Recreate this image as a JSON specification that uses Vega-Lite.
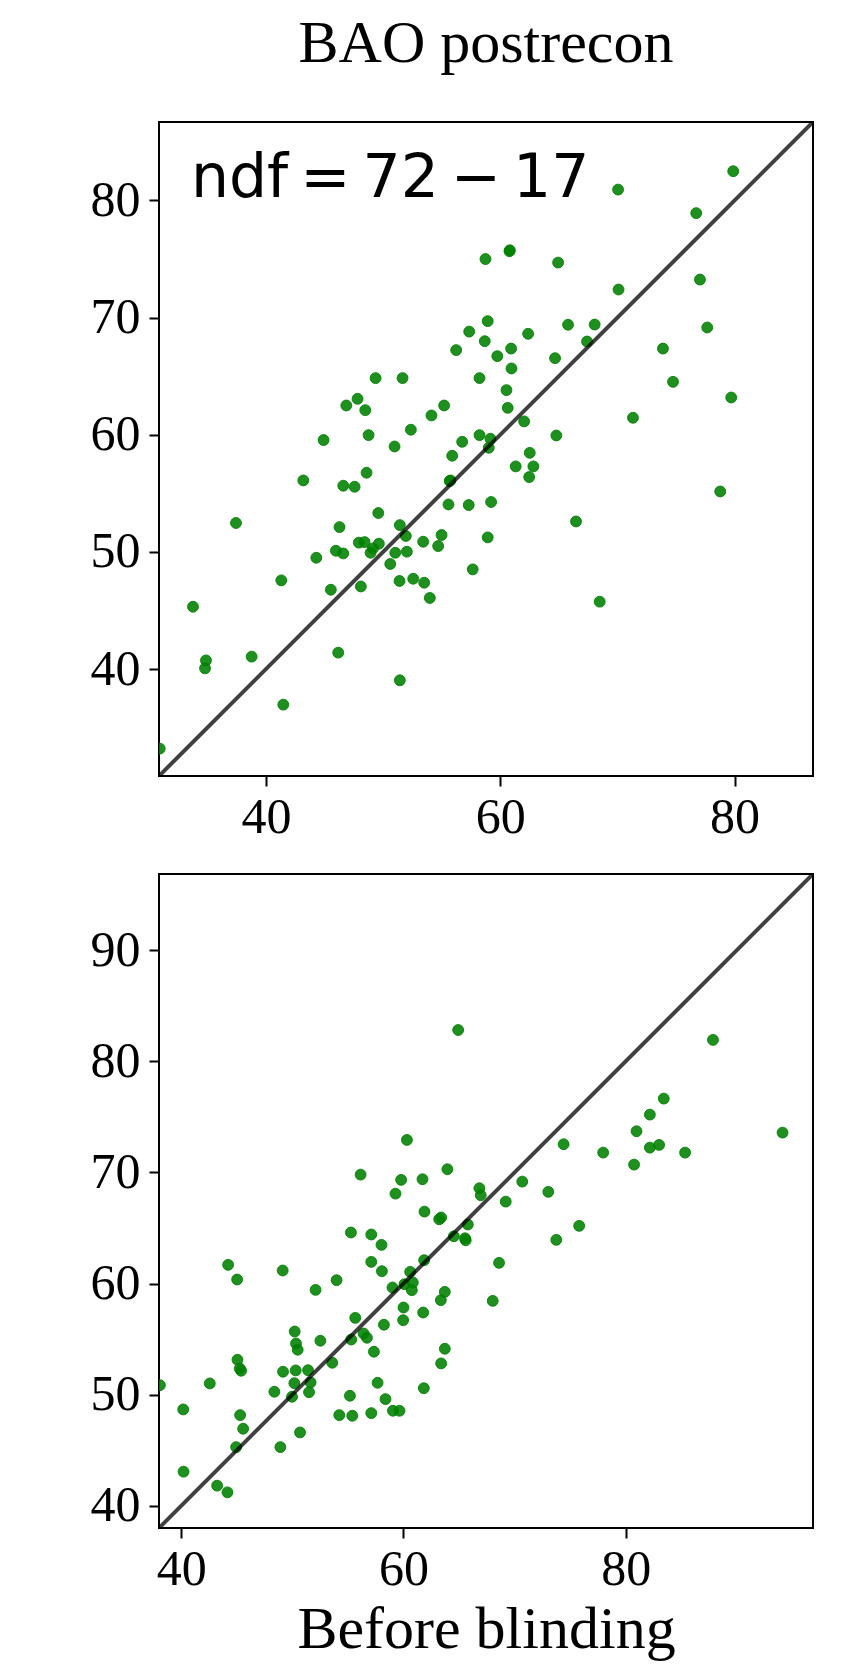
{
  "$schema": "https://vega.github.io/schema/vega-lite/v6.json",
  "padding": {"left": 89, "top": 13, "right": 31, "bottom": 20},
  "bounds": "flush",
  "spacing": 98,
  "config": {
    "view": {"stroke": "black", "strokeWidth": 2},
    "axis": {
      "domain": false,
      "grid": false,
      "ticks": true,
      "tickColor": "black",
      "tickWidth": 2,
      "tickSize": 10,
      "labelFont": "Liberation Serif",
      "labelFontSize": 50,
      "labelColor": "black",
      "titleFont": "Liberation Serif",
      "titleFontSize": 60,
      "titleFontWeight": "normal",
      "titleColor": "black"
    },
    "axisX": {"labelPadding": 6},
    "axisY": {"labelPadding": 9}
  },
  "datasets": {
    "top": [
      {"x": 58.74, "y": 75.0}, {"x": 58.93, "y": 69.7}, {"x": 57.35, "y": 68.81}, {"x": 58.68, "y": 67.99},
      {"x": 59.75, "y": 66.71}, {"x": 56.24, "y": 67.23}, {"x": 58.23, "y": 64.84}, {"x": 49.36, "y": 64.84},
      {"x": 51.66, "y": 64.84}, {"x": 47.82, "y": 63.07}, {"x": 46.86, "y": 62.5}, {"x": 48.48, "y": 62.1},
      {"x": 55.21, "y": 62.5}, {"x": 54.13, "y": 61.65}, {"x": 44.92, "y": 59.55}, {"x": 48.76, "y": 59.97},
      {"x": 52.37, "y": 60.43}, {"x": 50.98, "y": 59.0}, {"x": 56.75, "y": 59.4}, {"x": 58.23, "y": 59.97},
      {"x": 59.16, "y": 59.66}, {"x": 79.89, "y": 82.5}, {"x": 70.06, "y": 80.93}, {"x": 76.73, "y": 78.92},
      {"x": 60.79, "y": 75.67}, {"x": 60.82, "y": 75.75}, {"x": 64.94, "y": 74.7}, {"x": 77.05, "y": 73.25},
      {"x": 70.1, "y": 72.4}, {"x": 65.79, "y": 69.39}, {"x": 68.06, "y": 69.41}, {"x": 62.38, "y": 68.62},
      {"x": 60.93, "y": 67.36}, {"x": 67.41, "y": 67.96}, {"x": 77.67, "y": 69.16}, {"x": 73.89, "y": 67.36},
      {"x": 64.68, "y": 66.54}, {"x": 60.96, "y": 65.66}, {"x": 60.53, "y": 63.81}, {"x": 74.75, "y": 64.52},
      {"x": 79.72, "y": 63.18}, {"x": 60.64, "y": 62.3}, {"x": 62.04, "y": 61.14}, {"x": 71.33, "y": 61.45},
      {"x": 64.79, "y": 59.94}, {"x": 59.02, "y": 58.89}, {"x": 55.9, "y": 58.21}, {"x": 48.59, "y": 56.76},
      {"x": 43.19, "y": 56.1}, {"x": 46.6, "y": 55.65}, {"x": 47.57, "y": 55.56}, {"x": 55.69, "y": 56.05},
      {"x": 55.75, "y": 56.1}, {"x": 55.58, "y": 54.05}, {"x": 57.31, "y": 54.0}, {"x": 59.22, "y": 54.26},
      {"x": 37.44, "y": 52.47}, {"x": 49.59, "y": 53.32}, {"x": 46.28, "y": 52.12}, {"x": 51.43, "y": 52.29},
      {"x": 51.94, "y": 51.36}, {"x": 54.99, "y": 51.44}, {"x": 53.42, "y": 50.87}, {"x": 54.7, "y": 50.5},
      {"x": 58.93, "y": 51.24}, {"x": 47.93, "y": 50.79}, {"x": 48.42, "y": 50.84}, {"x": 49.64, "y": 50.7},
      {"x": 49.13, "y": 50.3}, {"x": 48.93, "y": 49.93}, {"x": 45.97, "y": 50.1}, {"x": 46.6, "y": 49.87},
      {"x": 51.04, "y": 49.93}, {"x": 52.03, "y": 50.02}, {"x": 44.3, "y": 49.5}, {"x": 50.61, "y": 48.97},
      {"x": 57.65, "y": 48.51}, {"x": 41.31, "y": 47.57}, {"x": 45.54, "y": 46.77}, {"x": 48.1, "y": 47.05},
      {"x": 51.4, "y": 47.52}, {"x": 52.57, "y": 47.71}, {"x": 53.51, "y": 47.37}, {"x": 53.99, "y": 46.07},
      {"x": 33.77, "y": 45.32}, {"x": 46.17, "y": 41.4}, {"x": 34.88, "y": 40.74}, {"x": 34.8, "y": 40.06},
      {"x": 38.78, "y": 41.06}, {"x": 51.43, "y": 39.04}, {"x": 41.48, "y": 36.96}, {"x": 30.93, "y": 33.21},
      {"x": 62.52, "y": 58.46}, {"x": 61.32, "y": 57.3}, {"x": 62.83, "y": 57.3}, {"x": 62.47, "y": 56.39},
      {"x": 66.47, "y": 52.6}, {"x": 78.78, "y": 55.16}, {"x": 68.49, "y": 45.75}
    ],
    "bottom": [
      {"x": 64.92, "y": 82.81}, {"x": 60.31, "y": 72.92}, {"x": 56.14, "y": 69.8}, {"x": 59.79, "y": 69.33},
      {"x": 61.71, "y": 69.38}, {"x": 63.95, "y": 70.28}, {"x": 59.28, "y": 68.09}, {"x": 66.83, "y": 68.57},
      {"x": 66.95, "y": 67.94}, {"x": 87.85, "y": 81.92}, {"x": 83.42, "y": 76.64}, {"x": 82.17, "y": 75.2},
      {"x": 80.97, "y": 73.7}, {"x": 94.11, "y": 73.58}, {"x": 74.41, "y": 72.53}, {"x": 77.97, "y": 71.78},
      {"x": 82.17, "y": 72.23}, {"x": 83.0, "y": 72.47}, {"x": 85.34, "y": 71.78}, {"x": 80.75, "y": 70.7},
      {"x": 70.69, "y": 69.17}, {"x": 73.03, "y": 68.25}, {"x": 69.2, "y": 67.37}, {"x": 61.89, "y": 66.47},
      {"x": 63.21, "y": 65.78}, {"x": 63.39, "y": 65.94}, {"x": 65.79, "y": 65.31}, {"x": 55.27, "y": 64.59},
      {"x": 57.1, "y": 64.41}, {"x": 58.02, "y": 63.48}, {"x": 64.53, "y": 64.25}, {"x": 65.54, "y": 64.07},
      {"x": 65.6, "y": 63.89}, {"x": 68.6, "y": 61.86}, {"x": 57.1, "y": 61.95}, {"x": 61.86, "y": 62.1},
      {"x": 58.06, "y": 61.11}, {"x": 44.22, "y": 61.68}, {"x": 45.03, "y": 60.36}, {"x": 49.13, "y": 61.17},
      {"x": 53.98, "y": 60.3}, {"x": 52.09, "y": 59.43}, {"x": 60.6, "y": 61.05}, {"x": 60.09, "y": 59.94},
      {"x": 60.84, "y": 60.09}, {"x": 60.75, "y": 59.4}, {"x": 59.01, "y": 59.64}, {"x": 63.72, "y": 59.25},
      {"x": 63.36, "y": 58.5}, {"x": 68.03, "y": 58.44}, {"x": 60.0, "y": 57.84}, {"x": 61.77, "y": 57.39},
      {"x": 59.97, "y": 56.7}, {"x": 55.66, "y": 56.91}, {"x": 58.24, "y": 56.29}, {"x": 50.21, "y": 55.68},
      {"x": 56.41, "y": 55.5}, {"x": 56.71, "y": 55.12}, {"x": 55.3, "y": 54.96}, {"x": 52.52, "y": 54.85},
      {"x": 50.33, "y": 54.6}, {"x": 50.48, "y": 54.04}, {"x": 57.34, "y": 53.86}, {"x": 63.72, "y": 54.13},
      {"x": 63.39, "y": 52.81}, {"x": 45.06, "y": 53.14}, {"x": 45.27, "y": 52.35}, {"x": 45.39, "y": 52.15},
      {"x": 53.59, "y": 52.87}, {"x": 49.16, "y": 52.06}, {"x": 50.3, "y": 52.18}, {"x": 51.41, "y": 52.2},
      {"x": 51.64, "y": 51.1}, {"x": 50.18, "y": 51.03}, {"x": 42.57, "y": 51.01}, {"x": 38.08, "y": 50.85},
      {"x": 48.38, "y": 50.26}, {"x": 51.5, "y": 50.22}, {"x": 49.97, "y": 49.81}, {"x": 57.67, "y": 51.07},
      {"x": 61.83, "y": 50.58}, {"x": 55.18, "y": 49.9}, {"x": 58.38, "y": 49.6}, {"x": 54.22, "y": 48.16},
      {"x": 55.39, "y": 48.1}, {"x": 57.1, "y": 48.34}, {"x": 59.05, "y": 48.55}, {"x": 59.64, "y": 48.55},
      {"x": 40.18, "y": 48.67}, {"x": 45.3, "y": 48.16}, {"x": 45.57, "y": 46.93}, {"x": 50.69, "y": 46.6},
      {"x": 44.94, "y": 45.28}, {"x": 48.92, "y": 45.28}, {"x": 40.21, "y": 43.07}, {"x": 43.23, "y": 41.81},
      {"x": 44.16, "y": 41.21}, {"x": 75.81, "y": 65.19}, {"x": 73.75, "y": 63.93}
    ],
    "topDiag": [{"a": 30.87, "b": 86.7}],
    "bottomDiag": [{"a": 38.0, "b": 96.85}],
    "note": [{"x": 33.6, "y": 80.32, "label": "ndf\u2009=\u200972\u2009\u2212\u200917"}]
  },
  "vconcat": [
    {
      "width": 654,
      "height": 654,
      "title": {
        "text": "BAO postrecon",
        "font": "Liberation Serif",
        "fontSize": 60,
        "fontWeight": "normal",
        "color": "black",
        "anchor": "middle",
        "baseline": "alphabetic",
        "offset": 0
      },
      "layer": [
        {
          "data": {"name": "top"},
          "mark": {"type": "point", "shape": "circle", "filled": true, "size": 118, "fill": "#008000", "fillOpacity": 0.88, "stroke": "#008000", "strokeOpacity": 0.88, "strokeWidth": 1, "clip": true},
          "encoding": {
            "x": {"field": "x", "type": "quantitative", "scale": {"domain": [30.87, 86.7], "zero": false, "nice": false},
                  "axis": {"values": [40, 60, 80], "title": null}},
            "y": {"field": "y", "type": "quantitative", "scale": {"domain": [30.87, 86.7], "zero": false, "nice": false},
                  "axis": {"values": [40, 50, 60, 70, 80], "title": null}}
          }
        },
        {
          "data": {"name": "topDiag"},
          "mark": {"type": "rule", "color": "black", "opacity": 0.75, "strokeWidth": 4, "clip": true},
          "encoding": {
            "x": {"field": "a", "type": "quantitative"},
            "y": {"field": "a", "type": "quantitative"},
            "x2": {"field": "b"},
            "y2": {"field": "b"}
          }
        },
        {
          "data": {"name": "note"},
          "mark": {"type": "text", "font": "DejaVu Sans", "fontSize": 60, "align": "left", "baseline": "alphabetic", "color": "black"},
          "encoding": {
            "x": {"field": "x", "type": "quantitative"},
            "y": {"field": "y", "type": "quantitative"},
            "text": {"field": "label"}
          }
        }
      ]
    },
    {
      "width": 654,
      "height": 654,
      "layer": [
        {
          "data": {"name": "bottom"},
          "mark": {"type": "point", "shape": "circle", "filled": true, "size": 118, "fill": "#008000", "fillOpacity": 0.88, "stroke": "#008000", "strokeOpacity": 0.88, "strokeWidth": 1, "clip": true},
          "encoding": {
            "x": {"field": "x", "type": "quantitative", "scale": {"domain": [38.0, 96.85], "zero": false, "nice": false},
                  "axis": {"values": [40, 60, 80], "title": "Before blinding", "titlePadding": 6}},
            "y": {"field": "y", "type": "quantitative", "scale": {"domain": [38.0, 96.85], "zero": false, "nice": false},
                  "axis": {"values": [40, 50, 60, 70, 80, 90], "title": null}}
          }
        },
        {
          "data": {"name": "bottomDiag"},
          "mark": {"type": "rule", "color": "black", "opacity": 0.75, "strokeWidth": 4, "clip": true},
          "encoding": {
            "x": {"field": "a", "type": "quantitative"},
            "y": {"field": "a", "type": "quantitative"},
            "x2": {"field": "b"},
            "y2": {"field": "b"}
          }
        }
      ]
    }
  ]
}
